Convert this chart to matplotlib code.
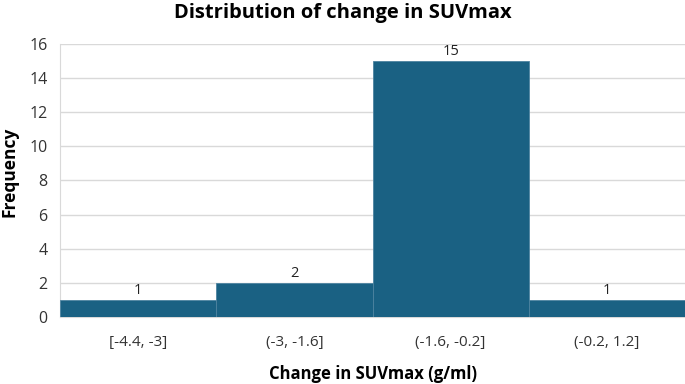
import matplotlib
matplotlib.use("Agg")
import matplotlib.pyplot as plt
import numpy as np

bins = ["[-4.4, -3]", "(-3, -1.6]", "(-1.6, -0.2]", "(-0.2, 1.2]"]
counts = [1, 2, 15, 1]
yticks = [0, 2, 4, 6, 8, 10, 12, 14, 16]

BAR_COLOR = "#1a6183"
GRID_COLOR = "#d9d9d9"

plt.rcParams['font.family'] = ['Open Sans', 'DejaVu Sans']

fig = plt.figure(figsize=(6.85, 3.84), dpi=100)
ax = fig.add_axes([0.0876, 0.1745, 0.9124, 0.711])

x = np.arange(len(bins))
bars = ax.bar(x, counts, width=1.0, color=BAR_COLOR, edgecolor="#4d83a0", linewidth=0.6, zorder=3)

for bar in bars:
    h = bar.get_height()
    ax.text(bar.get_x() + bar.get_width() / 2, h + 0.12, f"{int(h)}",
            ha="center", va="bottom", fontsize=10.5, color="#222222")

ax.set_xlim(-0.5, len(bins) - 0.5)
ax.set_ylim(0, 16)
ax.set_yticks(yticks)
ax.set_xticks(x)
ax.set_xticklabels(bins, fontsize=11, color="#333333")
ax.tick_params(axis="y", labelsize=11.5, colors="#333333", length=0, pad=9)
ax.tick_params(axis="x", length=0, pad=13)

ax.grid(axis="y", color=GRID_COLOR, linewidth=1, zorder=0)
for side in ["top", "right"]:
    ax.spines[side].set_visible(False)
ax.spines["left"].set_color(GRID_COLOR)
ax.spines["bottom"].set_color(GRID_COLOR)

fig.text(0.5, 0.965, "Distribution of change in SUVmax", fontsize=14.5, fontweight="bold",
         ha="center", va="center")
ax.set_xlabel("Change in SUVmax (g/ml)", fontsize=12, fontweight="bold")
ax.xaxis.set_label_coords(0.5, -0.176)
ax.set_ylabel("Frequency", fontsize=12.5, fontweight="bold")
ax.yaxis.set_label_coords(-0.066, 0.53)

fig.savefig("out.png", dpi=100)
